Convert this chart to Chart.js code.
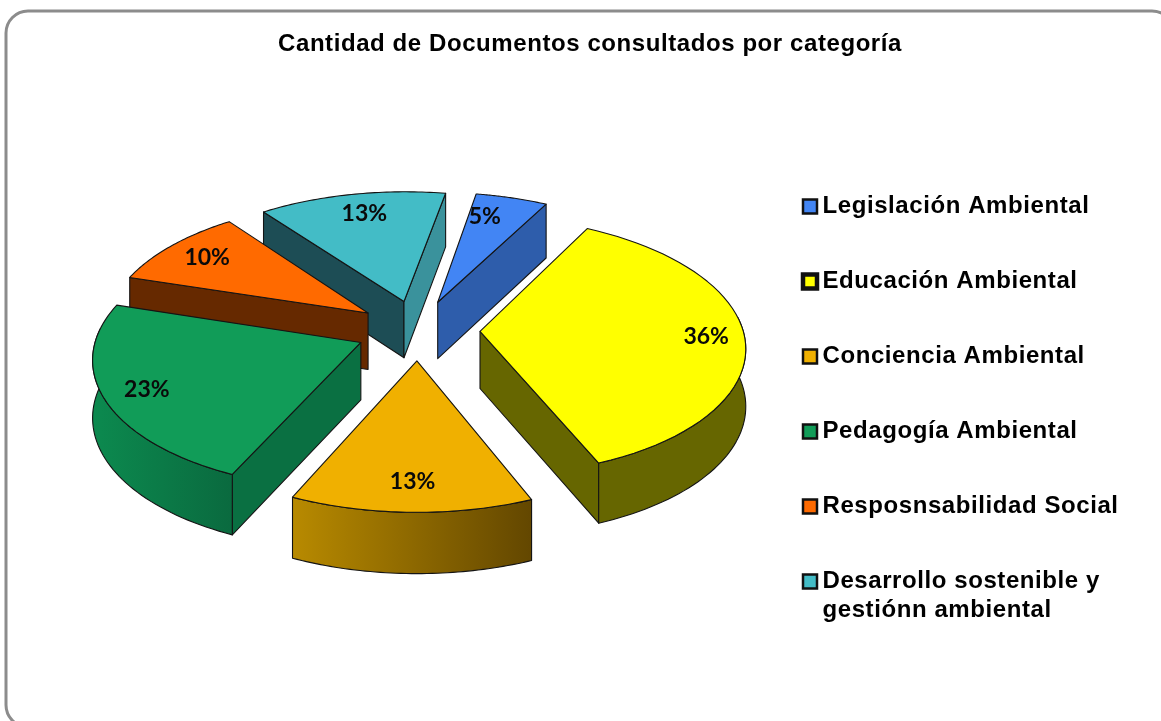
<!DOCTYPE html>
<html>
<head>
<meta charset="utf-8">
<style>html,body{margin:0;padding:0;background:#fff}#w{width:1161px;height:721px}canvas{display:block}</style>
<script src="https://cdn.jsdelivr.net/npm/chart.js@4/dist/chart.umd.min.js"></script>
</head>
<body>
<div id="w"><canvas id="c" width="1161" height="721"></canvas></div>
<script>
const titleText = 'Cantidad de Documentos consultados por categoría';
const categories = ['Legislación Ambiental','Educación Ambiental','Conciencia Ambiental','Pedagogía Ambiental','Resposnsabilidad Social',['Desarrollo sostenible y','gestiónn ambiental']];
const values = [5,36,13,23,10,13];
const topColors = ['#4285f4','#ffff00','#f0b000','#119c58','#ff6a00','#43bcc6'];
const startWallColors = ['#2e5dab','#666600','#8a6800','#0a7042','#662900','#1d4d55'];
const endWallColors = ['#2e5dab','#666600','#8a6800','#0a7042','#662900','#3a929c'];
const rimGradients = [['#2e5dab','#2e5dab'],['#666600','#666600'],['#b88a00','#634700'],['#0c8a4f','#0a6a3f'],['#662900','#662900'],['#3a929c','#3a929c']];
const legendBorders = [2.5,4.5,2.5,2.5,2.5,2.5];
const paintOrder = [5,4,0,3,1,2];
const labelReach = [0.79,0.855,0.815,0.84,0.81,0.8];
const labelTurn = [-4,0,0,0,0,1];

const view = {sy:0.485, dist:2400, depth:57, edge:0.11};
function project(el,px,py,z){
  const s = 1/(1-py/view.dist);
  return [el.x+px*s, el.y+py*view.sy*s+(z||0)*Math.sqrt(s)];
}
const pie3d = {
  id:'pie3d',
  beforeDraw(chart){
    const ctx=chart.ctx;
    ctx.save();
    ctx.strokeStyle='#8c8c8c';ctx.lineWidth=3;
    ctx.beginPath();ctx.roundRect(6,11,1168,716,22);ctx.stroke();
    ctx.restore();
    ctx.letterSpacing='0.58px';
  },
  afterLayout(chart){
    const lg=chart.legend;
    lg.left=758.5; lg.right=1161; lg.top=143.5; lg.bottom=721;
    chart.titleBlock.left=19; chart.titleBlock.right=1161;
  },
  beforeDatasetDraw(chart,args){
    const ctx=chart.ctx, arcs=chart.getDatasetMeta(args.index).data;
    paintOrder.forEach(i=>{
      const el=arcs[i], R=el.outerRadius, a0=el.startAngle, a1=el.endAngle, mid=(a0+a1)/2;
      const off=el.options.offset/4;
      const ox=Math.cos(mid)*off, oy=Math.sin(mid)*off;
      const P=(a,r,z)=>project(el,ox+Math.cos(a)*r,oy+Math.sin(a)*r,z);
      const rim=(from,to,z)=>{const n=48,out=[];for(let k=0;k<=n;k++)out.push(P(from+(to-from)*k/n,R,z));return out;};
      const poly=(pts,fill)=>{
        ctx.beginPath();pts.forEach((p,k)=>k?ctx.lineTo(p[0],p[1]):ctx.moveTo(p[0],p[1]));ctx.closePath();
        ctx.fillStyle=fill;ctx.fill();
        ctx.strokeStyle='#141414';ctx.lineWidth=1.1;ctx.lineJoin='round';ctx.stroke();
      };
      const tip=P(0,0), tipLow=P(0,0,view.depth), inner=P(mid,R);
      [[a0,startWallColors[i]],[a1,endWallColors[i]]].forEach(([a,col])=>{
        const e=P(a,R), E=[e[0]-tip[0],e[1]-tip[1]], I=[inner[0]-tip[0],inner[1]-tip[1]];
        if((E[0]*I[1]-E[1]*I[0])*E[0]<0) poly([tip,e,P(a,R,view.depth),tipLow],col);
      });
      for(const shift of [0,Math.PI*2]){
        const f=Math.max(a0,shift-view.edge), t=Math.min(a1,Math.PI+shift+view.edge);
        if(t>f){
          const up=rim(f,t,0), down=rim(t,f,view.depth);
          const xs=up.map(p=>p[0]), g=ctx.createLinearGradient(Math.min(...xs),0,Math.max(...xs),0);
          g.addColorStop(0,rimGradients[i][0]);g.addColorStop(1,rimGradients[i][1]);
          poly(up.concat(down),g);
        }
      }
      poly([tip].concat(rim(a0,a1,0)),el.options.backgroundColor);
    });
    return false;
  },
  afterDatasetsDraw(chart){
    const ctx=chart.ctx, arcs=chart.getDatasetMeta(0).data, total=values.reduce((a,b)=>a+b,0);
    ctx.save();
    ctx.letterSpacing='0px';
    ctx.font='bold 23px Lato';ctx.fillStyle='#0a0a0a';ctx.textAlign='center';ctx.textBaseline='middle';
    arcs.forEach((el,i)=>{
      const mid=(el.startAngle+el.endAngle)/2, off=el.options.offset/4, r=el.outerRadius*labelReach[i];
      const turned=mid+labelTurn[i]*Math.PI/180;
      const p=project(el,Math.cos(mid)*off+Math.cos(turned)*r,Math.sin(mid)*off+Math.sin(turned)*r);
      ctx.fillText(Math.round(values[i]/total*100)+'%',p[0],p[1]);
    });
    ctx.restore();
  }
};
new Chart(document.getElementById('c'),{
  type:'pie',
  plugins:[pie3d],
  data:{labels:categories,datasets:[{data:values,backgroundColor:topColors,borderWidth:0,offset:248,radius:263}]},
  options:{
    responsive:false,animation:false,rotation:10,
    layout:{padding:{left:0,right:325,top:0,bottom:128}},
    plugins:{
      tooltip:{enabled:false},
      title:{display:true,text:titleText,color:'#000',font:{family:'"Liberation Sans"',size:24,weight:'bold',lineHeight:'29px'},padding:{top:30,bottom:8}},
      legend:{position:'chartArea',align:'start',labels:{
        boxWidth:1,boxHeight:14,usePointStyle:true,padding:51,color:'#000',
        font:{family:'"Liberation Sans"',size:24,weight:'bold',lineHeight:'29px'},
        generateLabels(chart){
          return categories.map((t,i)=>({text:t,fillStyle:topColors[i],strokeStyle:'#111',lineWidth:legendBorders[i],pointStyle:'rect',index:i,fontColor:'#000'}));
        }
      }}
    }
  }
});
</script>
</body>
</html>
